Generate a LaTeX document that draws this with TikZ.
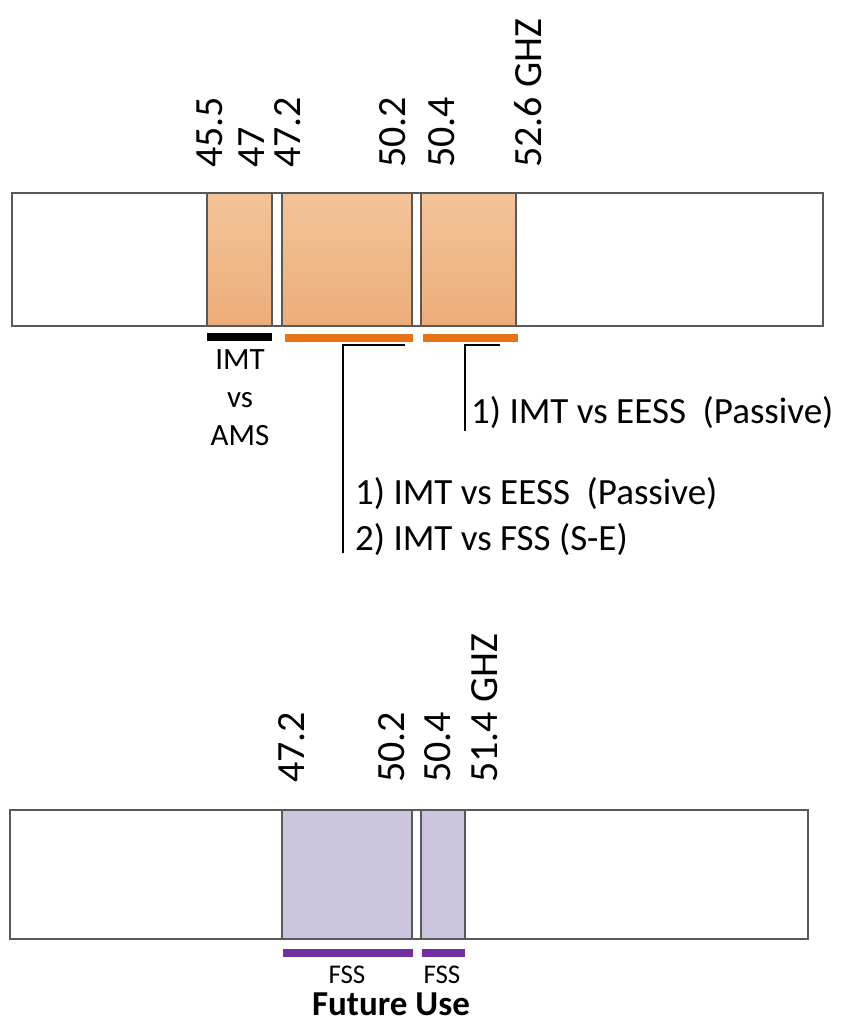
\documentclass[tikz,border=0pt]{standalone}
\usepackage{fontspec}
\setmainfont{Carlito}
\usetikzlibrary{calc,positioning}

\definecolor{edgegray}{RGB}{89,89,89}
\definecolor{imtorange}{RGB}{232,114,22}
\definecolor{fsspurple}{RGB}{112,48,160}
\definecolor{lilac}{RGB}{205,197,221}
\definecolor{peachtop}{RGB}{243,195,152}
\definecolor{peachbot}{RGB}{236,173,122}

\tikzset{
  strip/.style={draw=edgegray, line width=2.5pt, fill=white},
  band/.style={draw=edgegray, line width=2.5pt},
  svcbar/.style={line width=8pt, draw=#1},
  freq/.style={rotate=90, anchor=west, inner sep=0pt, font=\fontsize{40}{44}\selectfont},
  leader/.style={line width=1.8pt},
  note/.style={inner sep=0pt, font=\fontsize{37}{46}\selectfont},
  small/.style={inner sep=0pt, font=\fontsize{27}{30}\selectfont}
}

\begin{document}
\begin{tikzpicture}[x=1pt,y=-1pt]
\useasboundingbox (0,0) rectangle (845,1024);

% Top strip
\draw[strip] (12,193) rectangle (823,326);
\foreach \a/\b in {207/272,282/412,421/516} {
  \draw[band, top color=peachtop, bottom color=peachbot] (\a,193) rectangle (\b,326);
}

% Top frequencies
\foreach \x/\f [count=\i] in {210/45.5,252/47,288/47.2,393/50.2,442/50.4,528/52.6 GHZ} {
  \node[freq] (ftop\i) at (\x,168) {\f};
}

% Service bars
\draw[svcbar=black] (207,337) -- (272,337);
\draw[svcbar=imtorange] (285,338) -- (413,338);
\draw[svcbar=imtorange] (423,338) -- (518,338);

\node[inner sep=0pt, align=center, font=\fontsize{31}{38}\selectfont] (ams) at (240,398) {IMT\\vs\\AMS};

% Studies
\node[note, anchor=west] (eess) at (471,413) {1) IMT vs EESS\ \ (Passive)};
\node[note, anchor=west, align=left] (fss) at (355,517) {1) IMT vs EESS\ \ (Passive)\\2) IMT vs FSS (S-E)};

\coordinate (t1) at (405,345);
\coordinate (t2) at (500,345);
\draw[leader] (t1) -- (343,345) -- (343,553);
\draw[leader] (t2) -- (465,345) -- (465,431);

% Bottom strip
\draw[strip] (10,810) rectangle (808,939);
\foreach \a/\b in {282/412,421/465} {
  \draw[band, fill=lilac] (\a,810) rectangle (\b,939);
}

% Bottom frequencies
\foreach \x/\f [count=\i] in {292/47.2,392/50.2,438/50.4,485/51.4 GHZ} {
  \node[freq] (fbot\i) at (\x,783) {\f};
}

\draw[svcbar=fsspurple] (283,953) -- (413,953);
\draw[svcbar=fsspurple] (422,953) -- (465,953);

\node[small] (fss1) at (347,975) {FSS};
\node[small] (fss2) at (442,975) {FSS};
\node[inner sep=0pt, font=\fontsize{35}{38}\selectfont\bfseries] (future) at (391,1004) {Future Use};

\end{tikzpicture}
\end{document}
